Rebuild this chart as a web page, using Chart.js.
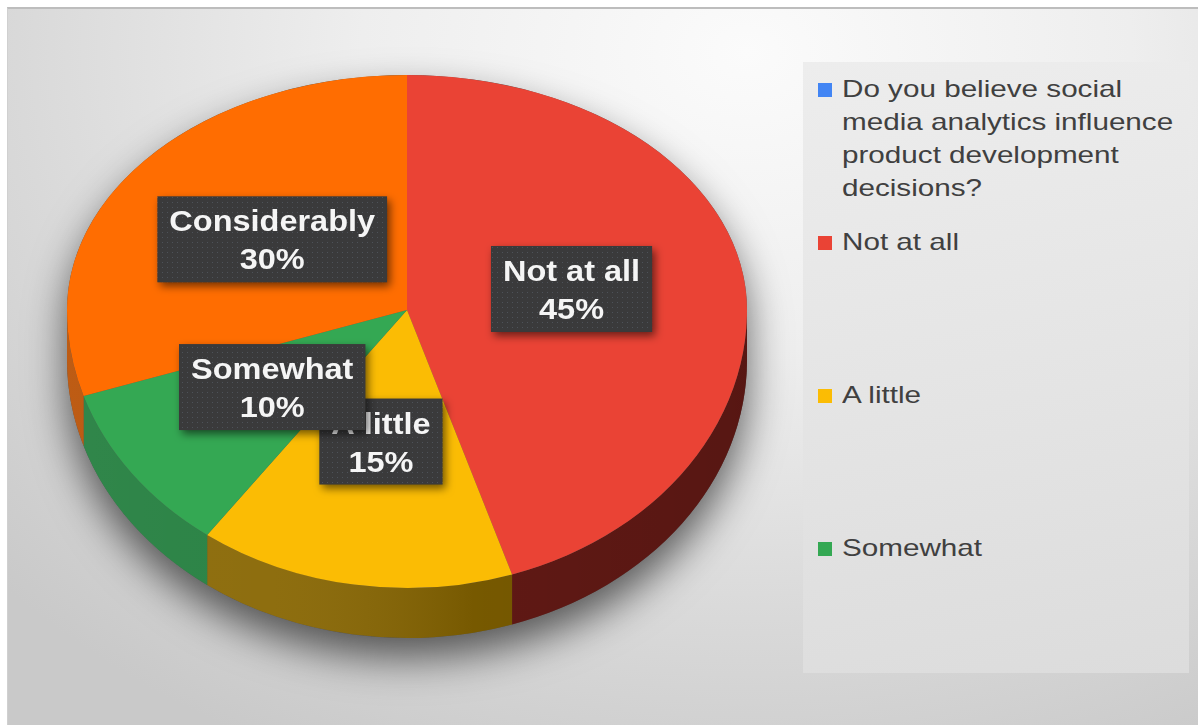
<!DOCTYPE html>
<html>
<head>
<meta charset="utf-8">
<script src="https://cdn.jsdelivr.net/npm/chart.js@4"></script>
<style>
  html, body { margin: 0; padding: 0; background: #fff; }
  body { width: 1198px; height: 725px; overflow: hidden; position: relative; font-family: "Liberation Sans", Arial, sans-serif; }
  #frame {
    position: absolute; left: 7px; top: 7px; width: 1191px; height: 716px;
    border-top: 2px solid #bdbdbd; border-left: 1px solid #d0d0d0;
    background: radial-gradient(ellipse 85% 110% at 62% 6%, #fbfbfb 0%, #eeeeee 38%, #d9d9d9 72%, #c9c9c9 100%);
  }
  #pie { position: absolute; left: 0; top: 0; }
  #legend {
    position: absolute; left: 803px; top: 62px; width: 386px; height: 611px; overflow: hidden;
    background: linear-gradient(170deg, #ededed 0%, #e4e4e4 55%, #dcdcdc 100%);
  }
  .item { position: absolute; left: 0; width: 100%; height: 153px; }
  .swatch { position: absolute; left: 15px; top: 11px; width: 14px; height: 14px; }
  .text {
    position: absolute; left: 39px; top: 0; width: 280px;
    font-size: 24px; line-height: 33px; color: #404040;
    transform: scaleX(1.235); transform-origin: left top;
  }
</style>
</head>
<body>
<div id="frame"></div>
<canvas id="pie" width="1198" height="725"></canvas>
<div id="legend"></div>
<script>
// answers to the survey question, in slice order (clockwise from 12 o'clock)
const answerLabels = [
    'Do you believe social media analytics influence product development decisions?',
    'Not at all',
    'A little',
    'Somewhat',
    'Considerably'
];
const answerShares = [0, 45, 15, 10, 30];

const topColors = ['#4285f4', '#ea4335', '#fbbc04', '#34a853', '#ff6d01'];
const sideColors = ['#1f4f9a', '#6d1c17', '#876500', '#1f7c3b', '#b84e00'];

// tilt of the disc: upper half is squashed more than the nearer lower half
const tilt = { top: 235 / 340, bottom: 278 / 340, depth: 50, centerY: 310 };

function dotPattern(ctx) {
    const c = document.createElement('canvas');
    c.width = 5; c.height = 5;
    const p = c.getContext('2d');
    p.fillStyle = '#3a3a3b';
    p.fillRect(0, 0, 5, 5);
    p.fillStyle = '#4d5259';
    p.fillRect(2, 2, 1, 1);
    return ctx.createPattern(c, 'repeat');
}

const pie3d = {
    id: 'pie3d',
    beforeDatasetsDraw(chart) {
        const ctx = chart.ctx;
        const arcs = chart.getDatasetMeta(0).data;
        const { x: cx, y: cy, outerRadius: R } = arcs[0];
        const cyS = tilt.centerY;
        const ryTop = R * tilt.top, ryBot = R * tilt.bottom;

        // soft drop shadow under the whole disc
        ctx.save();
        ctx.shadowColor = 'rgba(0, 0, 0, 0.6)';
        ctx.shadowBlur = 40;
        ctx.shadowOffsetY = 20;
        ctx.fillStyle = '#555';
        ctx.beginPath();
        ctx.ellipse(cx, cyS, R, ryTop, 0, Math.PI, 2 * Math.PI);
        ctx.ellipse(cx, cyS + tilt.depth, R, ryBot, 0, 0, Math.PI);
        ctx.closePath();
        ctx.fill();
        ctx.restore();

        // visible side walls (front half only), lit from the left
        arcs.forEach((arc, i) => {
            const s = Math.max(arc.startAngle, 0);
            const e = Math.min(arc.endAngle, Math.PI);
            if (e <= s) return;
            ctx.save();
            ctx.beginPath();
            ctx.ellipse(cx, cyS, R, ryBot, 0, s, e);
            ctx.ellipse(cx, cyS + tilt.depth, R, ryBot, 0, e, s, true);
            ctx.closePath();
            ctx.fillStyle = sideColors[i];
            ctx.fill();
            const g = ctx.createLinearGradient(cx - R, 0, cx + R, 0);
            g.addColorStop(0, 'rgba(255, 255, 255, 0.08)');
            g.addColorStop(0.3, 'rgba(255, 255, 255, 0.06)');
            g.addColorStop(0.6, 'rgba(0, 0, 0, 0.12)');
            g.addColorStop(1, 'rgba(0, 0, 0, 0.2)');
            ctx.fillStyle = g;
            ctx.fill();
            ctx.restore();
        });

        // top face, each half drawn with its own vertical squash
        [[0, cyS, tilt.top], [cyS, chart.height - cyS, tilt.bottom]].forEach(([y0, h, k]) => {
            ctx.save();
            ctx.beginPath();
            ctx.rect(0, y0, chart.width, h);
            ctx.clip();
            ctx.translate(0, cyS);
            ctx.scale(1, k);
            ctx.translate(0, -cy);
            arcs.forEach(arc => arc.draw(ctx));
            ctx.restore();
        });
        return false;
    },
    afterDraw(chart) {
        const ctx = chart.ctx;
        const arcs = chart.getDatasetMeta(0).data;
        const total = answerShares.reduce((a, b) => a + b, 0);
        const pattern = dotPattern(ctx);
        const sx = 1.12;

        arcs.forEach((arc, i) => {
            const value = answerShares[i];
            if (!value) return;
            const mid = (arc.startAngle + arc.endAngle) / 2;
            const r = arc.outerRadius * 0.49;
            const dy = r * Math.sin(mid);
            const px = arc.x + r * Math.cos(mid);
            const py = tilt.centerY + dy * (dy < 0 ? tilt.top : tilt.bottom);

            const lines = [answerLabels[i], Math.round(value / total * 100) + '%'];
            ctx.save();
            ctx.font = 'bold 29px "Liberation Sans", Arial, sans-serif';
            const textW = Math.max(...lines.map(t => ctx.measureText(t).width)) * sx;
            const w = textW + 24, h = 86;
            const left = px - w / 2, top = py - h / 2 - 3;

            ctx.save();
            ctx.shadowColor = 'rgba(0, 0, 0, 0.55)';
            ctx.shadowBlur = 8;
            ctx.shadowOffsetX = 3;
            ctx.shadowOffsetY = 4;
            ctx.fillStyle = pattern;
            ctx.fillRect(left, top, w, h);
            ctx.restore();

            ctx.fillStyle = '#f5f5f5';
            ctx.textAlign = 'center';
            ctx.textBaseline = 'alphabetic';
            [35, 73].forEach((off, j) => {
                ctx.save();
                ctx.translate(px, top + off);
                ctx.scale(sx, 1);
                ctx.fillText(lines[j], 0, 0);
                ctx.restore();
            });
            ctx.restore();
        });
    }
};

new Chart(document.getElementById('pie'), {
    type: 'pie',
    data: {
        labels: answerLabels,
        datasets: [{
            data: answerShares,
            backgroundColor: topColors,
            borderWidth: 0
        }]
    },
    options: {
        responsive: false,
        animation: false,
        layout: { padding: { left: 67, right: 451, top: 0, bottom: 45 } },
        plugins: {
            legend: { display: false },
            tooltip: { enabled: false }
        }
    },
    plugins: [pie3d]
});

// legend panel: one equal-height slot per answer
const legend = document.getElementById('legend');
answerLabels.forEach((label, i) => {
    const item = document.createElement('div');
    item.className = 'item';
    item.style.top = (10 + 153 * i) + 'px';
    const sw = document.createElement('div');
    sw.className = 'swatch';
    sw.style.background = topColors[i];
    const txt = document.createElement('div');
    txt.className = 'text';
    txt.textContent = label;
    item.appendChild(sw);
    item.appendChild(txt);
    legend.appendChild(item);
});
</script>
</body>
</html>
